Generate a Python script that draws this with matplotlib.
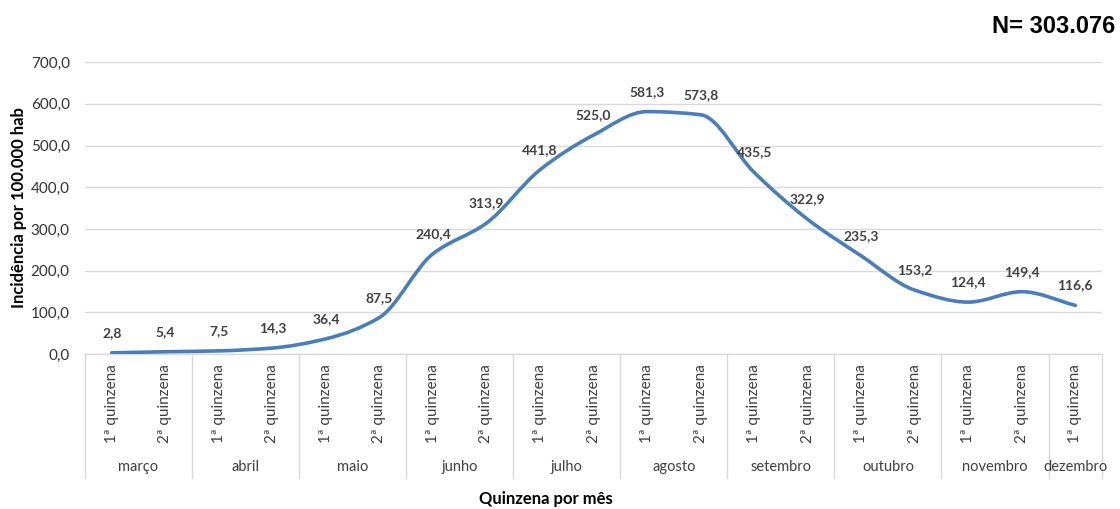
import matplotlib
matplotlib.use("Agg")
import matplotlib.pyplot as plt
import numpy as np
from matplotlib.path import Path
from matplotlib.patches import PathPatch
from matplotlib.transforms import blended_transform_factory

# Fortnightly incidence per 100,000 inhabitants
quinzenas = ["1ª quinzena", "2ª quinzena"] * 9 + ["1ª quinzena"]
meses = ["março", "abril", "maio", "junho", "julho", "agosto",
         "setembro", "outubro", "novembro", "dezembro"]
quinzenas_por_mes = [2, 2, 2, 2, 2, 2, 2, 2, 2, 1]
incidencia = [2.8, 5.4, 7.5, 14.3, 36.4, 87.5, 240.4, 313.9, 441.8, 525.0,
              581.3, 573.8, 435.5, 322.9, 235.3, 153.2, 124.4, 149.4, 116.6]
yticks = [0, 100, 200, 300, 400, 500, 600, 700]

LINE = "#4a7ebb"
TEXT = "#404040"
GRID = "#d9d9d9"
FONT = ["Lato", "DejaVu Sans"]

plt.rcParams["font.family"] = FONT

fig = plt.figure(figsize=(11.2, 5.09), dpi=100)
ax = fig.add_axes([0.0759, 0.3045, 0.9081, 0.5735])

x = np.arange(len(incidencia), dtype=float)
y = np.array(incidencia)
n = len(x)

# Monotone (Fritsch-Carlson) tangents for a smooth line without overshoot
d = np.diff(y)
m = np.zeros(n)
m[0], m[-1] = d[0], d[-1]
for i in range(1, n - 1):
    if d[i - 1] * d[i] <= 0:
        m[i] = 0.0
    else:
        m[i] = 2.0 / (1.0 / d[i - 1] + 1.0 / d[i])

verts = [(x[0], y[0])]
codes = [Path.MOVETO]
for i in range(n - 1):
    c1 = (x[i] + 1 / 3, y[i] + m[i] / 3)
    c2 = (x[i + 1] - 1 / 3, y[i + 1] - m[i + 1] / 3)
    verts += [c1, c2, (x[i + 1], y[i + 1])]
    codes += [Path.CURVE4] * 3
ax.add_patch(PathPatch(Path(verts, codes), facecolor="none", edgecolor=LINE,
                       linewidth=2.6, capstyle="round", joinstyle="round", zorder=3))

# Value labels
for xi, yi in zip(x, y):
    ax.annotate(f"{yi:.1f}".replace(".", ","), (xi, yi), xytext=(0, 10),
                textcoords="offset points", ha="center", va="bottom",
                fontsize=10, fontweight="bold", color=TEXT)

ax.set_xlim(-0.5, n - 0.5)
ax.set_ylim(0, 700)
ax.set_yticks(yticks)
ax.set_yticklabels([f"{v:.1f}".replace(".", ",") for v in yticks],
                   fontsize=11, color="#333333")
ax.tick_params(axis="y", length=0, pad=11)
ax.set_xticks([])
ax.grid(axis="y", color=GRID, linewidth=1)
ax.set_axisbelow(True)
for side in ["top", "right", "left"]:
    ax.spines[side].set_visible(False)
ax.spines["bottom"].set_color(GRID)
ax.spines["bottom"].set_linewidth(1)

ax.set_ylabel("Incidência por 100.000 hab", fontsize=12, fontweight="bold",
              color="black", labelpad=3)

# Two-level category axis
tr = blended_transform_factory(ax.transData, ax.transAxes)
for xi, q in zip(x, quinzenas):
    ax.text(xi, -0.035, q, transform=tr, rotation=90, ha="center", va="top",
            fontsize=11, color=TEXT)

start = 0
bounds = [-0.5]
for mes, k in zip(meses, quinzenas_por_mes):
    centre = start + (k - 1) / 2.0
    ax.text(centre, -0.387, mes, transform=tr, ha="center", va="center",
            fontsize=10.5, color=TEXT)
    start += k
    bounds.append(start - 0.5)
for b in bounds:
    ax.plot([b, b], [0, -0.425], transform=tr, color=GRID, linewidth=1,
            clip_on=False)

fig.text(0.487, 0.004, "Quinzena por mês", ha="center", va="bottom",
         fontsize=12, fontweight="bold", color="black")
fig.text(0.996, 0.947, "N= 303.076", ha="right", va="center",
         fontsize=17, fontweight="bold", color="black",
         family=["Liberation Sans", "DejaVu Sans"])

fig.savefig("out.png", dpi=100, facecolor="white")
